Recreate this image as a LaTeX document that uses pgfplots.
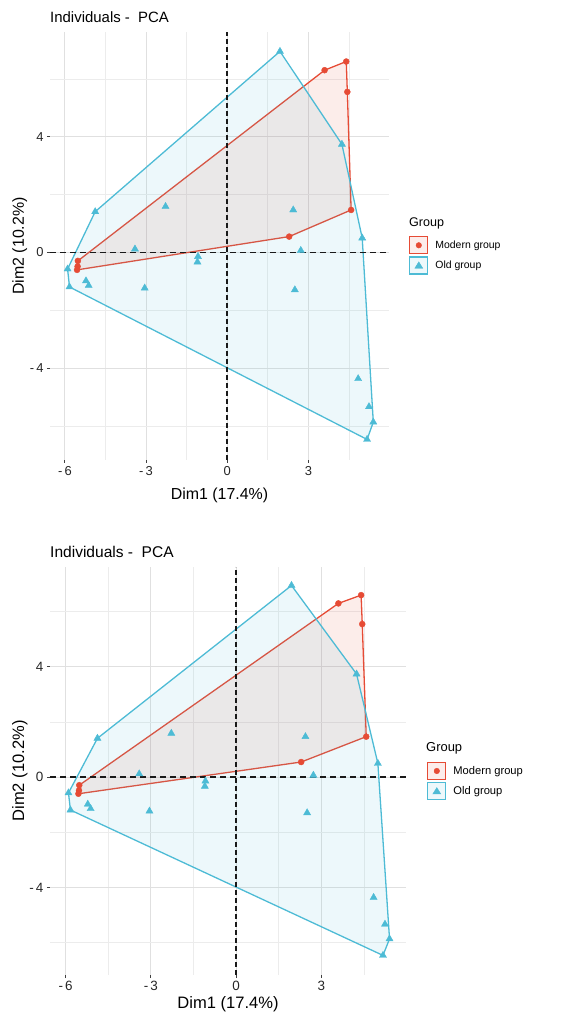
\documentclass[border=0pt]{standalone}
\usepackage{fontspec}
\setmainfont{Liberation Sans}
\usepackage{pgfplots}
\pgfplotsset{compat=1.18}
\usepackage{pgfplotstable}
\definecolor{nred}{RGB}{230,75,53}
\definecolor{nblue}{RGB}{77,187,213}
\definecolor{gmaj}{RGB}{224,224,224}
\definecolor{gmin}{RGB}{236,236,236}

\pgfplotstableread{
x y
3.60 6.30
4.40 6.60
4.44 5.55
4.58 1.47
2.29 0.55
-5.52 -0.29
-5.53 -0.48
-5.55 -0.60
}\modernpts

\pgfplotstableread{
x y
-5.52 -0.29
3.60 6.30
4.40 6.60
4.44 5.55
4.58 1.47
2.29 0.55
-5.55 -0.60
-5.52 -0.29
}\modernhull

\pgfplotstableread{
x y
1.95 6.95
4.24 3.74
4.99 0.50
4.84 -4.36
5.24 -5.33
5.40 -5.86
5.17 -6.46
-5.83 -1.19
-5.90 -0.57
-4.88 1.41
-2.28 1.59
-3.41 0.12
-1.08 -0.14
-1.10 -0.33
-5.22 -0.98
-5.12 -1.14
-3.05 -1.23
2.44 1.47
2.72 0.07
2.50 -1.29
}\oldpts

\pgfplotstableread{
x y
1.95 6.95
4.24 3.74
4.99 0.50
5.40 -5.86
5.17 -6.46
-5.83 -1.19
-5.90 -0.57
-4.88 1.41
1.95 6.95
}\oldhull

\pgfplotsset{
 every axis title/.style={at={(axis description cs:0,1)}, anchor=base west, inner sep=0pt},
 pcastyle/.style={
  scale only axis,
  xmin=-6.55, xmax=5.98, ymin=-7.17, ymax=7.62,
  axis line style={draw=none},
  tick pos=left, tick align=outside,
  major tick length=3bp, minor tick length=0pt,
  tick style={color=black!75, line width=0.9bp},
  xtick={-6,-3,0,3}, xticklabels={-\,6,-\,3,0,3},
  ytick={-4,0,4}, yticklabels={-\,4,0,4},
  minor xtick={-4.5,-1.5,1.5,4.5}, minor ytick={-6,-2,2,6},
  grid=both,
  major grid style={color=gmaj, line width=0.8bp},
  minor grid style={color=gmin, line width=0.6bp},
  /pgf/number format/assume math mode=true,
  ticklabel style={color=black!85},
  legend cell align=left,
  legend style={draw=none, fill=none, inner sep=0pt, row sep=2bp, column sep=7bp,
    anchor=north west, nodes={inner sep=0pt}},
  xlabel style={at={(axis description cs:0.5,0)}, anchor=base, inner sep=0pt},
  ylabel style={anchor=base, inner sep=0pt},
  title={Individuals - \ PCA},
  xlabel={Dim1 (17.4\%)},
  ylabel={Dim2 (10.2\%)},
 },
 hullred/.style={draw=nred, fill=nred, fill opacity=0.1, draw opacity=1, line width=1.3bp, line join=round, forget plot},
 hullblue/.style={draw=nblue, fill=nblue, fill opacity=0.1, draw opacity=1, line width=1.3bp, line join=round, forget plot},
 zeroh/.style={black!90, line width=1.5bp, dash pattern=on 6bp off 4bp, forget plot},
 zerov/.style={black!90, line width=1.5bp, dash pattern=on 5bp off 3bp, forget plot},
 redpts/.style={only marks, mark=*, mark size=3bp, nred, mark options={fill=nred, draw=nred}, forget plot},
 bluepts/.style={only marks, mark=triangle*, mark size=4.1bp, nblue, mark options={fill=nblue, draw=nblue}, forget plot},
}

\newcommand{\pcaplots}{%
  \addplot[hullred] table {\modernhull};
  \addplot[hullblue] table {\oldhull};
  \addplot[zeroh] coordinates {(-6.55,0) (5.98,0)};
  \addplot[zerov] coordinates {(0,-7.17) (0,7.62)};
  \addplot[bluepts] table {\oldpts};
  \addplot[redpts] table {\modernpts};
  \addlegendimage{legend image code/.code={\draw[draw=nred, fill=nred!10, line width=1.2bp] (0bp,-8.5bp) rectangle (18bp,8.5bp); \fill[nred] (9bp,0bp) circle (2.8bp);}}
  \addlegendentry{Modern group}
  \addlegendimage{legend image code/.code={\draw[draw=nblue, fill=nblue!10, line width=1.2bp] (0bp,-8.5bp) rectangle (18bp,8.5bp); \fill[nblue] (9bp,3.6bp) -- (13bp,-2.8bp) -- (5bp,-2.8bp) -- cycle;}}
  \addlegendentry{Old group}
}

\begin{document}
\begin{tikzpicture}
\path[use as bounding box] (0,0) rectangle (567bp,1016bp);
% top panel
\begin{axis}[pcastyle,
  at={(50bp,556bp)}, anchor=south west,
  width=339bp, height=428bp,
  title style={yshift=9bp, font=\fontsize{15}{17}\selectfont},
  xlabel style={yshift=-40bp, font=\fontsize{16}{18}\selectfont},
  ylabel style={at={(axis description cs:-0.0767,0.5)}, font=\fontsize{16}{18}\selectfont},
  ticklabel style={font=\fontsize{13}{15}\selectfont},
  legend style={at={(axis description cs:1.059,0.5234)}, font=\fontsize{10.5}{12}\selectfont},
]
\pcaplots
\end{axis}
\node[anchor=base west, inner sep=0pt, font=\fontsize{12.6}{14}\selectfont] at (409bp,789bp) {Group};
% bottom panel
\begin{axis}[pcastyle,
  at={(50bp,41bp)}, anchor=south west,
  width=356bp, height=408bp,
  title style={yshift=9bp, font=\fontsize{15.6}{17}\selectfont},
  xlabel style={yshift=-33bp, font=\fontsize{16.6}{18}\selectfont},
  ylabel style={at={(axis description cs:-0.073,0.5)}, font=\fontsize{16.6}{18}\selectfont},
  ticklabel style={font=\fontsize{13.5}{15}\selectfont},
  legend style={at={(axis description cs:1.059,0.5228)}, font=\fontsize{11.2}{12}\selectfont},
]
\pcaplots
\end{axis}
\node[anchor=base west, inner sep=0pt, font=\fontsize{13}{14}\selectfont] at (426bp,264bp) {Group};
\end{tikzpicture}
\end{document}
